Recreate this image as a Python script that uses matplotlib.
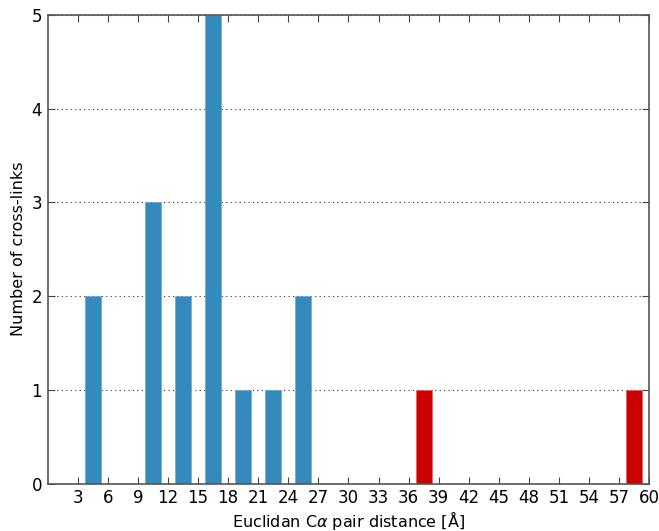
import matplotlib.pyplot as plt
import numpy as np

# data (bins of 3 Angstrom)
blue_centres = [4.5, 7.5, 10.5, 13.5, 16.5, 19.5, 22.5, 25.5, 28.5]
blue_counts = [2, 0, 3, 2, 5, 1, 1, 2, 0]
red_centres = [31.5, 34.5, 37.5, 40.5, 43.5, 46.5, 49.5, 52.5, 55.5, 58.5]
red_counts = [0, 0, 1, 0, 0, 0, 0, 0, 0, 1]
xticks = list(range(3, 61, 3))

fig = plt.figure(figsize=(6.59, 5.31), dpi=100)
ax = fig.add_axes([0.0722, 0.0891, 0.9131, 0.8832])

ax.bar(blue_centres, blue_counts, width=1.6, color='#348ABD', edgecolor='#6fa8d0', linewidth=0.5)
ax.bar(red_centres, red_counts, width=1.6, color='#CC0000', edgecolor='#e06060', linewidth=0.5)

ax.set_xlim(0, 60)
ax.set_ylim(0, 5)
ax.set_xticks(xticks)
ax.set_yticks(range(0, 6))
ax.yaxis.grid(True, linestyle=(0, (1, 3)), color='#333333', linewidth=0.8)
ax.set_axisbelow(True)

ax.tick_params(direction='in', top=True, right=True, length=5, labelsize=12, pad=4, colors='#444444', labelcolor='black')
for s in ax.spines.values():
    s.set_color('#555555')
    s.set_linewidth(1.2)

ax.set_xlabel(r'Euclidan C$\alpha$ pair distance [$\mathrm{\AA}$]', fontsize=11.5, labelpad=1)
ax.set_ylabel('Number of cross-links', fontsize=11.5, labelpad=4)

fig.savefig('out.png', dpi=100, facecolor='white')
